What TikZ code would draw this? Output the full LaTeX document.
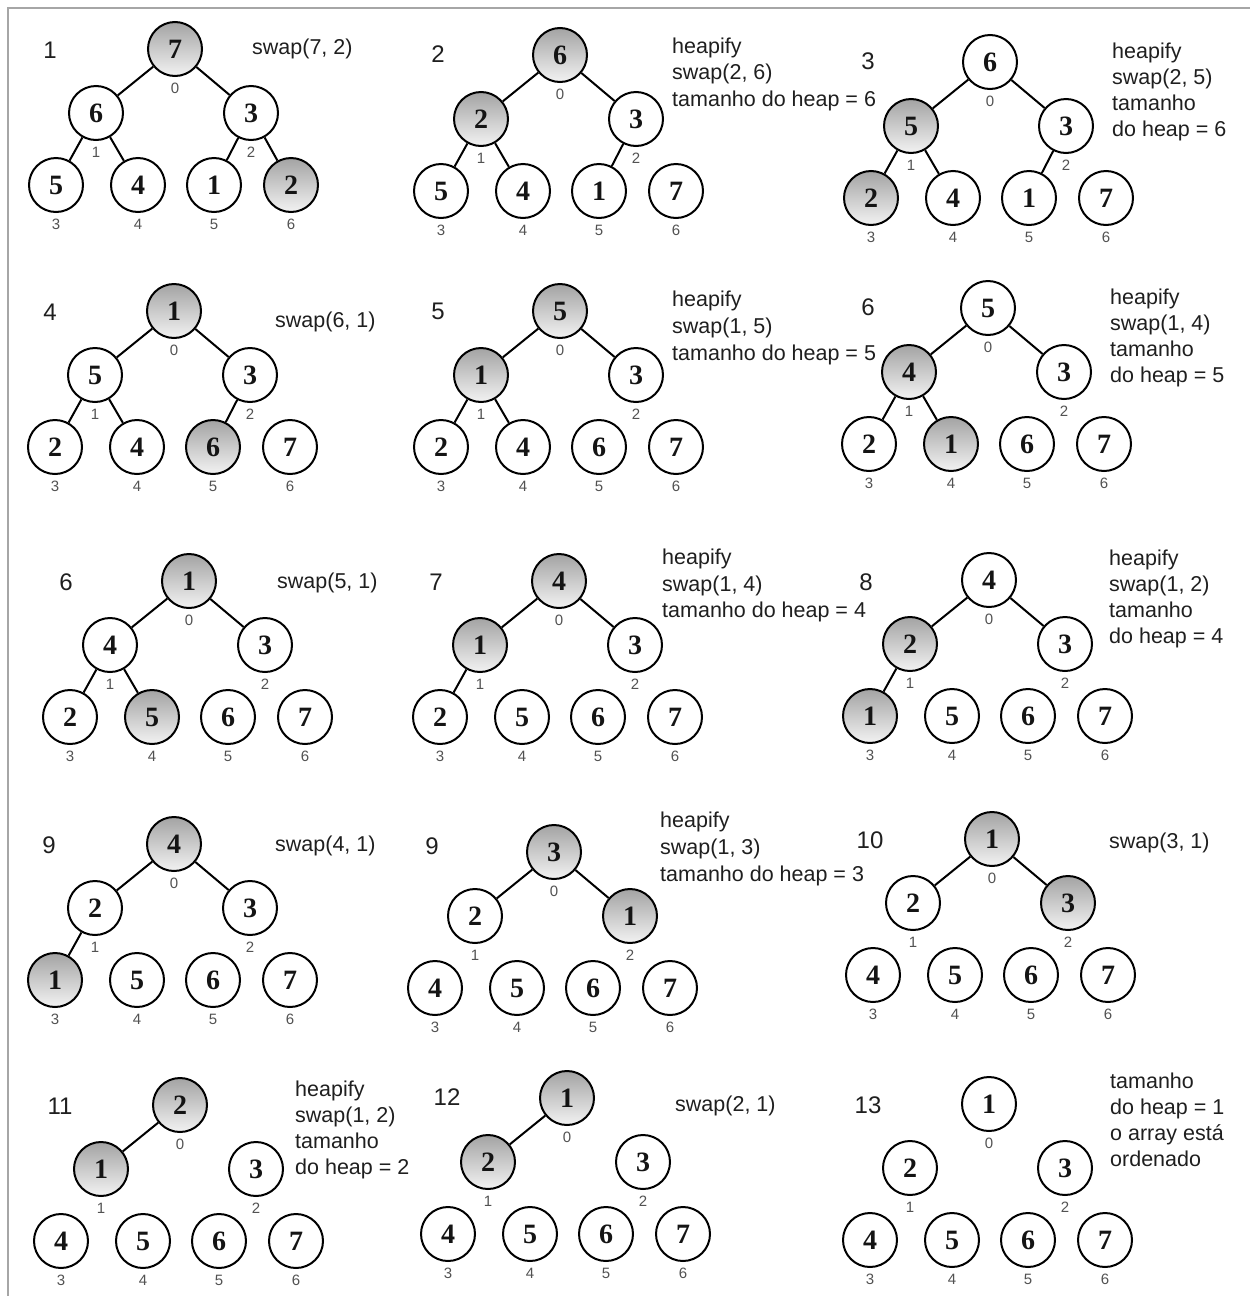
\documentclass[tikz,border=0pt]{standalone}
\usepackage{fontspec}
\setmainfont{Liberation Serif}
\newfontfamily\lsans{Liberation Sans}
\tikzset{
  hnode/.style={circle, draw=black, line width=2pt, minimum size=54pt, inner sep=0pt,
    font=\fontsize{28}{28}\selectfont\bfseries, text=black!92},
  hw/.style={fill=white},
  hg/.style={top color=black!36, bottom color=black!5},
  idx/.style={font=\lsans\fontsize{15}{15}\selectfont, text=black!68, inner sep=0pt},
  edge/.style={line width=2pt, black},
  plabel/.style={font=\lsans\fontsize{24}{24}\selectfont, text=black!88, inner sep=0pt},
  desc/.style={font=\lsans\fontsize{21.5}{21.5}\selectfont, text=black!88, anchor=base west, inner sep=0pt},
  frame/.style={draw=black!35, line width=1.5pt},
}
\newcommand{\heaptree}[4]{%
  \foreach \hv/\hs [count=\k from 0] in {#4} {
    \pgfmathsetmacro{\hdx}{{0,-79,76,-119,-37,39,116}[\k]}
    \pgfmathsetmacro{\hdy}{{0,64,64,136,136,136,136}[\k]}
    \node[hnode,\hs] (#1n\k) at ({#2+\hdx},{#3+\hdy}) {\hv};
    \node[idx] (#1i\k) at ({#2+\hdx},{#3+\hdy+39}) {\k};
  }
}
\newcommand{\heapedges}[2]{%
  \foreach \ea/\eb in {#2} {\draw[edge] (#1n\ea) -- (#1n\eb);}
}
\begin{document}
\begin{tikzpicture}[x=1pt,y=-1pt]
\useasboundingbox[fill=white] (0,0) rectangle (1250,1296);
\draw[frame] (8,1296) -- (8,8) -- (1250,8);

% ---- row 1
\heaptree{a}{175}{49}{7/hg,6/hw,3/hw,5/hw,4/hw,1/hw,2/hg}
\heapedges{a}{0/1,0/2,1/3,1/4,2/5,2/6}
\node[plabel] (la) at (50,50) {1};
\node[desc] (da1) at (252,54) {swap(7, 2)};

\heaptree{b}{560}{55}{6/hg,2/hg,3/hw,5/hw,4/hw,1/hw,7/hw}
\heapedges{b}{0/1,0/2,1/3,1/4,2/5}
\node[plabel] (lb) at (438,54) {2};
\node[desc] (db1) at (672,53) {heapify};
\node[desc] (db2) at (672,79.5) {swap(2, 6)};
\node[desc] (db3) at (672,106) {tamanho do heap = 6};

\heaptree{c}{990}{62}{6/hw,5/hg,3/hw,2/hg,4/hw,1/hw,7/hw}
\heapedges{c}{0/1,0/2,1/3,1/4,2/5}
\node[plabel] (lc) at (868,61) {3};
\node[desc] (dc1) at (1112,58) {heapify};
\node[desc] (dc2) at (1112,84) {swap(2, 5)};
\node[desc] (dc3) at (1112,110) {tamanho};
\node[desc] (dc4) at (1112,136) {do heap = 6};

% ---- row 2
\heaptree{d}{174}{311}{1/hg,5/hw,3/hw,2/hw,4/hw,6/hg,7/hw}
\heapedges{d}{0/1,0/2,1/3,1/4,2/5}
\node[plabel] (ld) at (50,312) {4};
\node[desc] (dd1) at (275,327) {swap(6, 1)};

\heaptree{e}{560}{311}{5/hg,1/hg,3/hw,2/hw,4/hw,6/hw,7/hw}
\heapedges{e}{0/1,0/2,1/3,1/4}
\node[plabel] (le) at (438,311) {5};
\node[desc] (de1) at (672,306) {heapify};
\node[desc] (de2) at (672,333) {swap(1, 5)};
\node[desc] (de3) at (672,360) {tamanho do heap = 5};

\heaptree{f}{988}{308}{5/hw,4/hg,3/hw,2/hw,1/hg,6/hw,7/hw}
\heapedges{f}{0/1,0/2,1/3,1/4}
\node[plabel] (lf) at (868,307) {6};
\node[desc] (df1) at (1110,304) {heapify};
\node[desc] (df2) at (1110,330) {swap(1, 4)};
\node[desc] (df3) at (1110,356) {tamanho};
\node[desc] (df4) at (1110,382) {do heap = 5};

% ---- row 3
\heaptree{g}{189}{581}{1/hg,4/hw,3/hw,2/hw,5/hg,6/hw,7/hw}
\heapedges{g}{0/1,0/2,1/3,1/4}
\node[plabel] (lg) at (66,582) {6};
\node[desc] (dg1) at (277,588) {swap(5, 1)};

\heaptree{h}{559}{581}{4/hg,1/hg,3/hw,2/hw,5/hw,6/hw,7/hw}
\heapedges{h}{0/1,0/2,1/3}
\node[plabel] (lh) at (436,582) {7};
\node[desc] (dh1) at (662,564) {heapify};
\node[desc] (dh2) at (662,591) {swap(1, 4)};
\node[desc] (dh3) at (662,617) {tamanho do heap = 4};

\heaptree{i}{989}{580}{4/hw,2/hg,3/hw,1/hg,5/hw,6/hw,7/hw}
\heapedges{i}{0/1,0/2,1/3}
\node[plabel] (li) at (866,582) {8};
\node[desc] (di1) at (1109,565) {heapify};
\node[desc] (di2) at (1109,591) {swap(1, 2)};
\node[desc] (di3) at (1109,617) {tamanho};
\node[desc] (di4) at (1109,643) {do heap = 4};

% ---- row 4
\heaptree{j}{174}{844}{4/hg,2/hw,3/hw,1/hg,5/hw,6/hw,7/hw}
\heapedges{j}{0/1,0/2,1/3}
\node[plabel] (lj) at (49,845) {9};
\node[desc] (dj1) at (275,851) {swap(4, 1)};

\heaptree{k}{554}{852}{3/hg,2/hw,1/hg,4/hw,5/hw,6/hw,7/hw}
\heapedges{k}{0/1,0/2}
\node[plabel] (lk) at (432,846) {9};
\node[desc] (dk1) at (660,827) {heapify};
\node[desc] (dk2) at (660,854) {swap(1, 3)};
\node[desc] (dk3) at (660,881) {tamanho do heap = 3};

\heaptree{l}{992}{839}{1/hg,2/hw,3/hg,4/hw,5/hw,6/hw,7/hw}
\heapedges{l}{0/1,0/2}
\node[plabel] (ll) at (870,840) {10};
\node[desc] (dl1) at (1109,848) {swap(3, 1)};

% ---- row 5
\heaptree{m}{180}{1105}{2/hg,1/hg,3/hw,4/hw,5/hw,6/hw,7/hw}
\heapedges{m}{0/1}
\node[plabel] (lm) at (60,1106) {11};
\node[desc] (dm1) at (295,1096) {heapify};
\node[desc] (dm2) at (295,1122) {swap(1, 2)};
\node[desc] (dm3) at (295,1148) {tamanho};
\node[desc] (dm4) at (295,1174) {do heap = 2};

\heaptree{n}{567}{1098}{1/hg,2/hg,3/hw,4/hw,5/hw,6/hw,7/hw}
\heapedges{n}{0/1}
\node[plabel] (ln) at (447,1097) {12};
\node[desc] (dn1) at (675,1111) {swap(2, 1)};

\heaptree{o}{989}{1104}{1/hw,2/hw,3/hw,4/hw,5/hw,6/hw,7/hw}
\node[plabel] (lo) at (868,1105) {13};
\node[desc] (do1) at (1110,1088) {tamanho};
\node[desc] (do2) at (1110,1114) {do heap = 1};
\node[desc] (do3) at (1110,1140) {o array está};
\node[desc] (do4) at (1110,1166) {ordenado};
\end{tikzpicture}
\end{document}
